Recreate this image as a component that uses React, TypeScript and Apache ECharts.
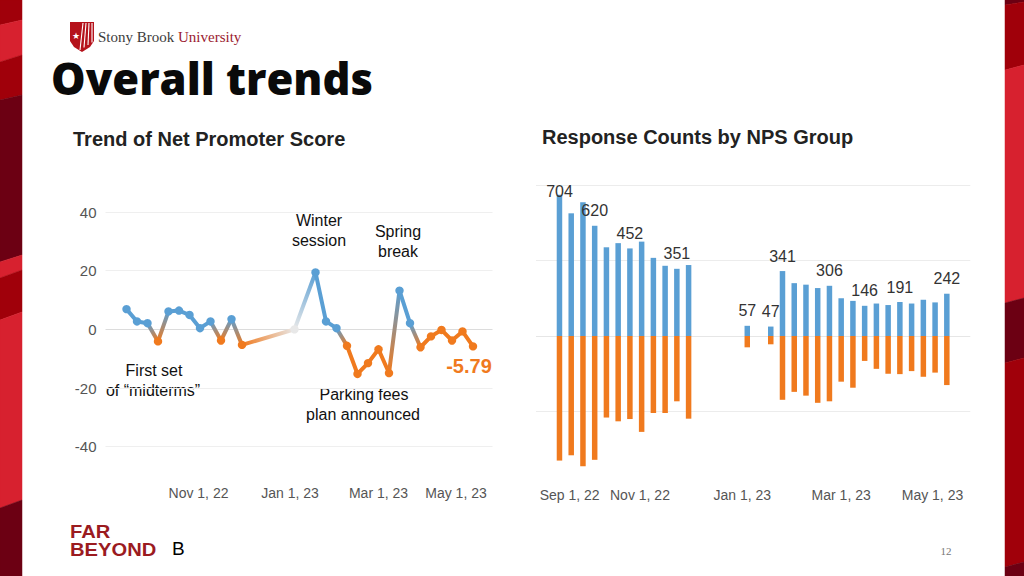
import React, { useEffect, useRef } from 'react';
import * as echarts from 'echarts';

// ---------- data ----------
const weekDates = [
  '2022-09-14', '2022-09-21', '2022-09-28', '2022-10-05', '2022-10-12', '2022-10-19',
  '2022-10-26', '2022-11-02', '2022-11-09', '2022-11-16', '2022-11-23', '2022-11-30',
  '2023-01-04', '2023-01-18', '2023-01-25', '2023-02-01', '2023-02-08', '2023-02-15',
  '2023-02-22', '2023-03-01', '2023-03-08', '2023-03-15', '2023-03-22', '2023-03-29',
  '2023-04-05', '2023-04-12', '2023-04-19', '2023-04-26', '2023-05-03',
];
const npsValues = [
  6.9, 2.7, 2.1, -4.1, 6.1, 6.4, 4.9, 0.4, 2.7, -3.8, 3.5, -5.3,
  0.0, 19.4, 2.7, 0.4, -5.6, -15.2, -11.5, -6.8, -14.9, 13.2, 2.1, -6.1,
  -2.4, -0.2, -3.8, -0.7, -5.79,
];
const promoters = [
  374, 325, 354, 292, 235, 246, 232, 250, 207, 186, 178, 188,
  27, 25, 172, 140, 136, 127, 133, 100, 93, 80, 86, 82, 90, 86, 96, 89, 112,
];
const detractors = [
  330, 316, 345, 328, 216, 226, 220, 254, 204, 204, 173, 219,
  30, 22, 169, 148, 158, 177, 173, 121, 137, 66, 87, 100, 101, 93, 108, 97, 130,
];
const labelledBars = [0, 3, 6, 10, 12, 13, 14, 18, 21, 24, 28];

const lineTickDates = ['2022-11-01', '2023-01-01', '2023-03-01', '2023-05-01'];
const lineTickLabels = ['Nov 1, 22', 'Jan 1, 23', 'Mar 1, 23', 'May 1, 23'];
const barTickDates = ['2022-09-01', '2022-11-01', '2023-01-01', '2023-03-01', '2023-05-01'];
const barTickLabels = ['Sep 1, 22', 'Nov 1, 22', 'Jan 1, 23', 'Mar 1, 23', 'May 1, 23'];

const BLUE = '#5a9fd4';
const ORANGE = '#f07a1e';
const NEUTRAL = '#e8e8e8';
const FONT = 'Liberation Sans, Arial, sans-serif';

const ts = (s: string) => new Date(s + 'T00:00:00').getTime();
const colorOf = (v: number) => (v > 0.05 ? BLUE : v < -0.05 ? ORANGE : NEUTRAL);

function makeFormatter(dates: string[], labels: string[], styles: (string | null)[]) {
  const stamps = dates.map(ts);
  return (v: number) => {
    const i = stamps.findIndex((t) => Math.abs(t - v) < 43200000);
    if (i < 0) return '';
    const st = styles[i];
    return st ? `{${st}|${labels[i]}}` : labels[i];
  };
}

function buildOption(): any {
  const n = npsValues.length;
  const lineData = weekDates.map((d, i) => [ts(d), npsValues[i]]);

  const renderNps = (params: any, api: any) => {
    const i = params.dataIndex;
    const v = npsValues[i];
    const p = api.coord([api.value(0), api.value(1)]);
    const children: any[] = [];
    if (i < n - 1) {
      const q = api.coord([ts(weekDates[i + 1]), npsValues[i + 1]]);
      const c1 = colorOf(v);
      const c2 = colorOf(npsValues[i + 1]);
      const stroke =
        c1 === c2
          ? c1
          : new echarts.graphic.LinearGradient(p[0], p[1], q[0], q[1], [
              { offset: 0, color: c1 },
              { offset: 1, color: c2 },
            ], true);
      children.push({
        type: 'line',
        shape: { x1: p[0], y1: p[1], x2: q[0], y2: q[1] },
        style: { stroke, lineWidth: 4, lineCap: 'round' },
      });
    }
    children.push({
      type: 'circle',
      shape: { cx: p[0], cy: p[1], r: 4.2 },
      style: { fill: colorOf(v) },
    });
    if (i === n - 1) {
      children.push({
        type: 'text',
        x: p[0] - 4,
        y: p[1] + 20,
        style: {
          text: String(v), fill: ORANGE, fontSize: 20, fontWeight: 'bold',
          fontFamily: FONT, align: 'center', verticalAlign: 'middle',
        },
      });
    }
    return { type: 'group', children };
  };

  const promoData = weekDates.map((d, i) => {
    const item: any = { value: [ts(d), promoters[i]] };
    if (labelledBars.includes(i)) {
      item.label = { show: true };
      if (i === 0) item.label.offset = [0, 12];
    }
    return item;
  });
  const detrData = weekDates.map((d, i) => [ts(d), -detractors[i]]);

  const bandsLeft = [25, 62, 100, 262, 278, 320, 508];
  const bandsLeftR = [20, 55, 95, 255, 270, 312, 500];
  const colorsLeft = ['#a0000a', '#d7212f', '#a0000a', '#6c0013', '#d7212f', '#a0000a', '#d7212f', '#6c0013'];
  const bandsRight = [5, 70, 303, 363, 567];
  const bandsRightR = [2, 65, 298, 358, 562];
  const colorsRight = ['#6c0013', '#a0000a', '#d7212f', '#6c0013', '#a0000a', '#6c0013'];

  const stripe = (x0: number, x1: number, l: number[], r: number[], cols: string[]) => {
    const out: any[] = [];
    const L = [0, ...l, 576];
    const R = [0, ...r, 576];
    for (let i = 0; i < cols.length; i++) {
      out.push({
        type: 'polygon',
        shape: { points: [[x0, L[i]], [x1, R[i]], [x1, R[i + 1]], [x0, L[i + 1]]] },
        style: { fill: cols[i], stroke: cols[i], lineWidth: 0.5 },
        silent: true,
      });
    }
    return out;
  };

  const txt = (text: string, x: number, y: number, extra: any = {}, el: any = {}) => ({
    type: 'text',
    x, y,
    ...el,
    style: {
      text, fill: '#111', fontSize: 16, fontFamily: FONT,
      align: 'center', verticalAlign: 'middle', ...extra,
    },
    silent: true,
  });

  const graphic: any[] = [
    ...stripe(0, 22, bandsLeft, bandsLeftR, colorsLeft),
    ...stripe(1005, 1024, bandsRight, bandsRightR, colorsRight),
    // logo shield
    {
      type: 'polygon',
      shape: { points: [[70, 22], [94, 22], [94, 41], [90, 47], [82, 52], [74, 47], [70, 41]] },
      style: { fill: '#b5121b' },
    },
    ...[0, 1, 2, 3].map((k) => ({
      type: 'line',
      shape: { x1: 83 + k * 3, y1: 23, x2: 80 + k * 4, y2: 50 - k * 2.5 },
      style: { stroke: '#ffffff', lineWidth: 1.1 },
    })),
    txt('★', 76, 36, { fill: '#ffffff', fontSize: 9, fontFamily: 'DejaVu Sans' }),
    {
      type: 'text', x: 98, y: 37,
      style: {
        text: '{a|Stony Brook }{b|University}',
        verticalAlign: 'middle', align: 'left',
        rich: {
          a: { fontFamily: 'Liberation Serif, serif', fontSize: 15, fill: '#3c3c3c' },
          b: { fontFamily: 'Liberation Serif, serif', fontSize: 15, fill: '#9b1b30' },
        },
      },
    },
    txt('Overall trends', 51, 78, {
      align: 'left', fontSize: 43.5, fontWeight: 800, fontFamily: 'Open Sans, sans-serif', fill: '#0a0a0a',
    }),
    txt('Trend of Net Promoter Score', 73, 139, { align: 'left', fontSize: 20, fontWeight: 'bold', fill: '#222' }),
    txt('Response Counts by NPS Group', 542, 137, { align: 'left', fontSize: 20, fontWeight: 'bold', fill: '#222' }),
    // annotations
    txt('Winter', 319, 220),
    txt('session', 319, 240),
    txt('Spring', 398, 231),
    txt('break', 398, 251),
    txt('First set', 154, 370),
    txt('of \u201cmidterms\u201d', 153, 390),
    txt('Parking fees', 364, 394),
    txt('plan announced', 363, 414),
    // footer
    txt('FAR', 70, 531.5, { align: 'left', fontSize: 18, fontWeight: 'bold', fill: '#9b1b1f' }, { scaleX: 1.12 }),
    txt('BEYOND', 70, 549.5, { align: 'left', fontSize: 18, fontWeight: 'bold', fill: '#9b1b1f' }, { scaleX: 1.12 }),
    txt('B', 172, 548, { align: 'left', fontSize: 19, fill: '#000' }),
    txt('12', 946, 551, { fontSize: 11, fill: '#777', fontFamily: 'Liberation Serif, serif' }),
  ];

  const axisLabelBase = { fontSize: 14, color: '#555', fontFamily: FONT, hideOverlap: false };

  return {
    animation: false,
    backgroundColor: '#ffffff',
    textStyle: { fontFamily: FONT },
    grid: [
      { left: 105.5, top: 212, width: 387, height: 234.7, outerBoundsMode: 'none' },
      { left: 536, top: 185, width: 434.3, height: 302, outerBoundsMode: 'none' },
    ],
    xAxis: [
      {
        type: 'value', gridIndex: 0,
        min: ts('2022-08-31'), max: ts('2023-05-16'),
        axisLine: { show: false }, axisTick: { show: false }, splitLine: { show: false },
        axisLabel: {
          ...axisLabelBase, margin: 39,
          customValues: lineTickDates.map(ts),
          formatter: makeFormatter(lineTickDates, lineTickLabels, [null, null, null, 'r']),
          rich: { r: { fontSize: 14, color: '#555', padding: [0, 28, 0, 0] } },
        },
      },
      {
        type: 'value', gridIndex: 1,
        min: ts('2022-08-31'), max: ts('2023-05-17'),
        axisLine: { show: false }, axisTick: { show: false }, splitLine: { show: false },
        axisLabel: {
          ...axisLabelBase, margin: 1,
          customValues: barTickDates.map(ts),
          formatter: makeFormatter(barTickDates, barTickLabels, ['l', null, null, null, 'r']),
          rich: {
            l: { fontSize: 14, color: '#555', padding: [0, 0, 0, 64] },
            r: { fontSize: 14, color: '#555', padding: [0, 22, 0, 0] },
          },
        },
      },
    ],
    yAxis: [
      {
        type: 'value', gridIndex: 0, min: -40, max: 40, interval: 20,
        axisLine: { show: false }, axisTick: { show: false },
        axisLabel: { fontSize: 15, color: '#555', margin: 9, fontFamily: FONT },
        splitLine: { lineStyle: { color: ['#efefef', '#efefef', '#dcdcdc', '#efefef', '#efefef'], width: 1 } },
      },
      {
        type: 'value', gridIndex: 1, min: -400, max: 400, interval: 200,
        axisLine: { show: false }, axisTick: { show: false },
        axisLabel: { show: false },
        splitLine: { lineStyle: { color: ['rgba(0,0,0,0)', '#ececec', '#e6e6e6', '#ececec', '#ececec'], width: 1 } },
      },
    ],
    series: [
      {
        type: 'custom', name: 'NPS', xAxisIndex: 0, yAxisIndex: 0,
        data: lineData,
        encode: { x: 0, y: 1 },
        renderItem: renderNps,
        clip: false,
        z: 3,
      },
      {
        type: 'bar', name: 'Promoters', xAxisIndex: 1, yAxisIndex: 1, stack: 'nps',
        data: promoData, barWidth: 5.5,
        itemStyle: { color: BLUE },
        label: {
          show: false, position: 'top', distance: 7,
          fontSize: 16, color: '#333', fontFamily: FONT,
          formatter: (p: any) => String(promoters[p.dataIndex] + detractors[p.dataIndex]),
        },
      },
      {
        type: 'bar', name: 'Detractors', xAxisIndex: 1, yAxisIndex: 1, stack: 'nps',
        data: detrData, barWidth: 5.5,
        itemStyle: { color: ORANGE },
      },
    ],
    graphic,
  };
}

export default function App() {
  const ref = useRef<HTMLDivElement>(null);
  useEffect(() => {
    document.body.style.margin = '0';
    const chart = echarts.init(ref.current!, undefined, { renderer: 'svg' });
    chart.setOption(buildOption());
    return () => chart.dispose();
  }, []);
  return (
    <div
      ref={ref}
      style={{ position: 'absolute', left: 0, top: 0, width: 1024, height: 576, background: '#fff' }}
    />
  );
}
